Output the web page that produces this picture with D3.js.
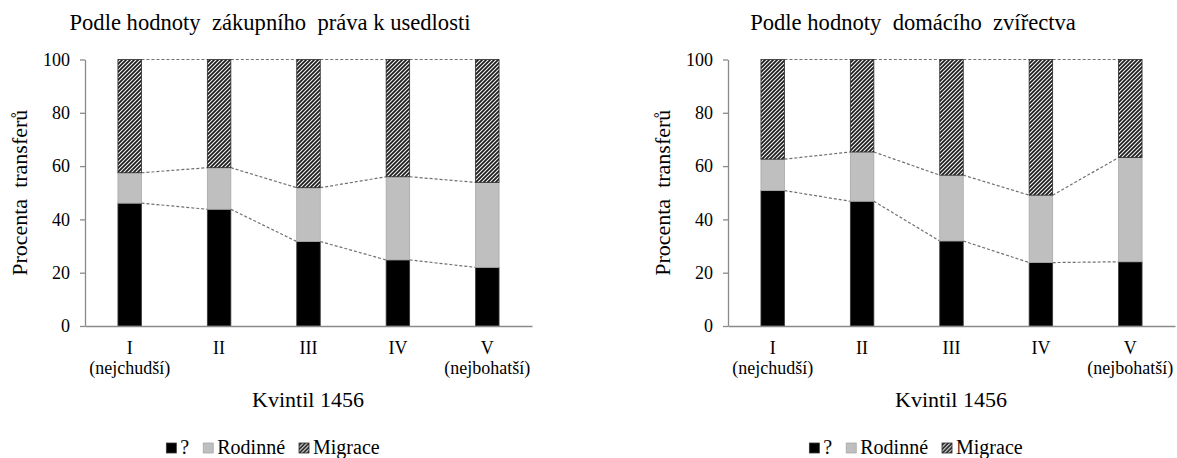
<!DOCTYPE html>
<html>
<head>
<meta charset="utf-8">
<script src="https://cdn.jsdelivr.net/npm/d3@7"></script>
<style>
  body { margin: 0; background: #fff; }
  svg { display: block; font-family: "Liberation Serif", "Times New Roman", Times, serif; }
  svg text { font-family: "Liberation Serif", "Times New Roman", Times, serif !important; fill: #000; }
</style>
</head>
<body>
<svg id="chart" width="1177" height="458"></svg>
<script>
// Categories (quintiles of 1456) and their second label line
const categories = ["I", "II", "III", "IV", "V"];
const categorySub = ["(nejchudší)", "", "", "", "(nejbohatší)"];
const seriesNames = ["?", "Rodinné", "Migrace"];
const yTicks = [0, 20, 40, 60, 80, 100];
const panelTitles = ["Podle hodnoty  zákupního  práva k usedlosti", "Podle hodnoty  domácího  zvířectva"];
const xTitle = "Kvintil 1456";
const yTitle = "Procenta  transferů";

// Left panel: by value of the holding's purchase right (percent of transfers)
const unknownA   = [46.1, 43.8, 31.7, 24.8, 22.0];
const familyA    = [11.4, 15.6, 20.2, 31.2, 31.9];
const migrationA = [42.5, 40.6, 48.1, 44.0, 46.1];

// Right panel: by value of livestock (percent of transfers)
const unknownB   = [50.8, 46.8, 31.9, 23.8, 24.1];
const familyB    = [11.8, 18.5, 24.7, 25.3, 39.1];
const migrationB = [37.4, 34.7, 43.4, 50.9, 36.8];

const FONT = "'Liberation Serif', 'Times New Roman', Times, serif";

const panels = [
  { title: panelTitles[0], series: [unknownA, familyA, migrationA], dx: 0 },
  { title: panelTitles[1], series: [unknownB, familyB, migrationB], dx: 643 }
];

const svg = d3.select("#chart").attr("font-family", FONT);
const fills = ["#000000", "#bfbfbf", "url(#hatch)"];
const strokes = ["#3a3a3a", "#a8a8a8", "#2a2a2a"];
const axisColor = "#8a8a8a";

// diagonal hatch used for "Migrace"
const defs = svg.append("defs");
const pat = defs.append("pattern")
  .attr("id", "hatch").attr("patternUnits", "userSpaceOnUse")
  .attr("width", 4).attr("height", 4);
pat.append("rect").attr("width", 4).attr("height", 4).attr("fill", "#1c1c1c");
pat.append("path").attr("d", "M-1,1 l2,-2 M0,4 l4,-4 M3,5 l2,-2")
  .attr("stroke", "#f4f4f4").attr("stroke-width", 1.1);

const plotLeft = 85, plotRight = 532, plotTop = 59.5, plotBottom = 326;

function label(sel, size) {
  return sel.attr("font-family", FONT).style("font-family", FONT)
    .style("font-size", size + "px").attr("fill", "#000");
}

panels.forEach(p => {
  const g = svg.append("g").attr("transform", `translate(${p.dx},0)`);

  const x = d3.scaleBand().domain(categories).range([plotLeft, plotRight])
    .paddingInner(0.737).paddingOuter(0.3685);
  const y = d3.scaleLinear().domain([0, 100]).range([plotBottom, plotTop]);

  const rows = categories.map((c, i) => {
    const r = { cat: c };
    seriesNames.forEach((s, k) => r[s] = p.series[k][i]);
    return r;
  });
  const stacked = d3.stack().keys(seriesNames)(rows);

  // title
  label(g.append("text").attr("x", 270).attr("y", 30).attr("text-anchor", "middle"), 22.6)
    .style("white-space", "pre").text(p.title);

  // series connector lines
  stacked.forEach(layer => {
    for (let i = 0; i < layer.length - 1; i++) {
      g.append("line")
        .attr("x1", x(categories[i]) + x.bandwidth()).attr("y1", y(layer[i][1]))
        .attr("x2", x(categories[i + 1])).attr("y2", y(layer[i + 1][1]))
        .attr("stroke", "#707070").attr("stroke-width", 1.2)
        .attr("stroke-dasharray", "3,2");
    }
  });

  // bars
  stacked.forEach((layer, k) => {
    g.append("g").selectAll("rect").data(layer).join("rect")
      .attr("x", (d, i) => x(categories[i]))
      .attr("y", d => y(d[1]))
      .attr("width", x.bandwidth())
      .attr("height", d => y(d[0]) - y(d[1]))
      .attr("fill", fills[k])
      .attr("stroke", strokes[k]).attr("stroke-width", 0.8);
  });

  // y axis
  const ya = g.append("g").attr("transform", `translate(${plotLeft},0)`)
    .call(d3.axisLeft(y).tickValues(yTicks).tickSize(5).tickSizeOuter(0).tickPadding(10))
    .attr("font-family", FONT);
  ya.selectAll("path, line").attr("stroke", axisColor).attr("stroke-width", 1.3);
  label(ya.selectAll("text"), 18);

  // x axis baseline
  const xa = g.append("g").attr("transform", `translate(0,${plotBottom})`)
    .call(d3.axisBottom(x).tickSize(0).tickSizeOuter(0).tickFormat(""));
  xa.selectAll("path").attr("stroke", axisColor).attr("stroke-width", 1.3);

  // category labels
  categories.forEach((c, i) => {
    const cx = x(c) + x.bandwidth() / 2;
    label(g.append("text").attr("x", cx).attr("y", 354).attr("text-anchor", "middle"), 18).text(c);
    if (categorySub[i]) {
      label(g.append("text").attr("x", cx).attr("y", 374).attr("text-anchor", "middle"), 18)
        .text(categorySub[i]);
    }
  });

  // axis titles
  label(g.append("text").attr("x", 308).attr("y", 407).attr("text-anchor", "middle"), 22).text(xTitle);
  label(g.append("text")
    .attr("transform", `translate(27,${(plotTop + plotBottom) / 2}) rotate(-90)`)
    .attr("text-anchor", "middle"), 22)
    .style("white-space", "pre").text(yTitle);

  // legend
  const lg = g.append("g");
  let lx = 0;
  seriesNames.forEach((s, k) => {
    lg.append("rect").attr("x", lx).attr("y", 443).attr("width", 10).attr("height", 10)
      .attr("fill", fills[k]).attr("stroke", strokes[k]).attr("stroke-width", 0.8);
    const t = label(lg.append("text").attr("x", lx + 14).attr("y", 454), 20).text(s);
    lx += 14 + t.node().getComputedTextLength() + 14;
  });
  const legendW = lx - 14;
  lg.attr("transform", `translate(${273 - legendW / 2},0)`);
});
</script>
</body>
</html>
